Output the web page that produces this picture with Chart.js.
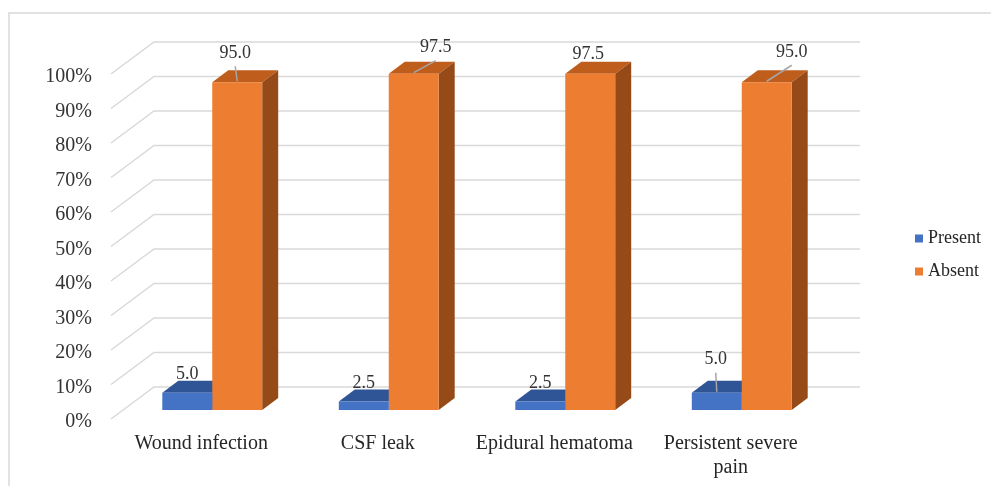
<!DOCTYPE html>
<html>
<head>
<meta charset="utf-8">
<script src="https://cdn.jsdelivr.net/npm/chart.js@4.4.1/dist/chart.umd.min.js"></script>
<style>
  html, body { margin: 0; padding: 0; background: #fff; }
  #wrap { width: 991px; height: 486px; position: relative; }
</style>
</head>
<body>
<div id="wrap"><canvas id="myChart"></canvas></div>
<script>
// datos del gráfico
const categories = ['Wound infection', 'CSF leak', 'Epidural hematoma', ['Persistent severe', 'pain']];
const seriesNames = ['Present', 'Absent'];
const presentValues = [5.0, 2.5, 2.5, 5.0];
const absentValues = [95.0, 97.5, 97.5, 95.0];
const yMin = 0, yMax = 100, yStep = 10;

// desplazamiento de las etiquetas [dx, dy, línea guía]
const presentNudge = [[0, -18, false], [0, -18, false], [0, -18, false], [-1, -33, true]];
const absentNudge = [[-2, -29, true], [22, -26, true], [-2, -19, false], [25, -30, true]];

const serif = '"Liberation Serif", "Times New Roman", serif';
const depth = { dx: 16, dy: -12 };          // profundidad de cada barra
const back = { dx: 30, dy: -23 };           // pared del fondo
const front = { dx: -13, dy: 9 };           // borde delantero del suelo

const shades = [
    { front: '#4472C4', top: '#2F5597', side: '#284A85' },
    { front: '#ED7D31', top: '#BF5D1C', side: '#964A17' }
];

const threeD = {
    id: 'threeD',
    beforeDraw(chart) {
        const ctx = chart.ctx;
        ctx.save();
        ctx.strokeStyle = '#d9d9d9';
        ctx.lineWidth = 1.5;
        ctx.beginPath();
        ctx.moveTo(9, chart.height);
        ctx.lineTo(9, 13);
        ctx.lineTo(chart.width, 13);
        ctx.stroke();
        ctx.restore();
    },
    beforeDatasetsDraw(chart) {
        const ctx = chart.ctx;
        const y = chart.scales.y;
        const area = chart.chartArea;
        ctx.save();
        // líneas de cuadrícula en 3D
        ctx.strokeStyle = '#d9d9d9';
        ctx.lineWidth = 1.5;
        for (let v = yMin; v <= yMax; v += yStep) {
            const py = y.getPixelForValue(v);
            ctx.beginPath();
            ctx.moveTo(area.left + front.dx, py + front.dy);
            ctx.lineTo(area.left + back.dx, py + back.dy);
            ctx.lineTo(area.right + back.dx, py + back.dy);
            ctx.stroke();
        }
        // caras superiores y laterales
        chart.data.datasets.forEach((ds, i) => {
            const c = shades[i];
            chart.getDatasetMeta(i).data.forEach(bar => {
                const l = bar.x - bar.width / 2, r = bar.x + bar.width / 2;
                const t = bar.y, b = bar.base;
                ctx.fillStyle = c.top;
                ctx.beginPath();
                ctx.moveTo(l, t);
                ctx.lineTo(l + depth.dx, t + depth.dy);
                ctx.lineTo(r + depth.dx, t + depth.dy);
                ctx.lineTo(r, t);
                ctx.closePath();
                ctx.fill();
                ctx.fillStyle = c.side;
                ctx.beginPath();
                ctx.moveTo(r, t);
                ctx.lineTo(r + depth.dx, t + depth.dy);
                ctx.lineTo(r + depth.dx, b + depth.dy);
                ctx.lineTo(r, b);
                ctx.closePath();
                ctx.fill();
            });
        });
        ctx.restore();
    },
    afterDatasetsDraw(chart) {
        const ctx = chart.ctx;
        const nudges = [presentNudge, absentNudge];
        ctx.save();
        ctx.font = '18px ' + serif;
        ctx.textAlign = 'center';
        ctx.textBaseline = 'middle';
        chart.data.datasets.forEach((ds, i) => {
            chart.getDatasetMeta(i).data.forEach((bar, j) => {
                const [dx, dy, leader] = nudges[i][j];
                const lx = bar.x + dx, ly = bar.y + dy;
                if (leader) {
                    ctx.strokeStyle = '#a6a6a6';
                    ctx.lineWidth = 1.5;
                    ctx.beginPath();
                    ctx.moveTo(bar.x, bar.y - 1);
                    ctx.lineTo(lx, ly + 13);
                    ctx.stroke();
                }
                ctx.fillStyle = '#333';
                ctx.fillText(ds.data[j].toFixed(1), lx, ly);
            });
        });
        ctx.restore();
    },
    afterDraw(chart) {
        // leyenda
        const ctx = chart.ctx;
        const area = chart.chartArea;
        const x0 = area.right + 85;
        const yc = (area.top + area.bottom) / 2 + 1;
        ctx.save();
        ctx.font = '18px ' + serif;
        ctx.textAlign = 'left';
        ctx.textBaseline = 'middle';
        chart.data.datasets.forEach((ds, i) => {
            const yy = yc + i * 33;
            ctx.fillStyle = ds.backgroundColor;
            ctx.fillRect(x0, yy - 4, 8, 8);
            ctx.fillStyle = '#262626';
            ctx.fillText(ds.label, x0 + 13, yy);
        });
        ctx.restore();
    }
};

const ctx = document.getElementById('myChart').getContext('2d');
const myChart = new Chart(ctx, {
    type: 'bar',
    data: {
        labels: categories,
        datasets: [
            { label: seriesNames[0], data: presentValues, backgroundColor: shades[0].front },
            { label: seriesNames[1], data: absentValues, backgroundColor: shades[1].front }
        ]
    },
    options: {
        responsive: true,
        maintainAspectRatio: false,
        animation: false,
        devicePixelRatio: 1,
        layout: { padding: { top: 65, right: 161, left: 0, bottom: 0 } },
        categoryPercentage: 0.566,
        barPercentage: 1,
        plugins: {
            legend: { display: false },
            tooltip: { enabled: false }
        },
        scales: {
            x: {
                grid: { display: false, drawTicks: false },
                border: { display: false },
                ticks: {
                    font: { family: serif, size: 20 },
                    color: '#262626',
                    padding: 22,
                    labelOffset: -11,
                    maxRotation: 0,
                    autoSkip: false
                },
                afterFit: s => { s.height = 76; }
            },
            y: {
                min: yMin,
                max: yMax,
                grid: { display: false, drawTicks: false },
                border: { display: false },
                ticks: {
                    stepSize: yStep,
                    font: { family: serif, size: 20 },
                    color: '#333',
                    padding: 32,
                    labelOffset: 12,
                    callback: v => v + '%'
                },
                afterFit: s => { s.width = 124; }
            }
        }
    },
    plugins: [threeD]
});
</script>
</body>
</html>
